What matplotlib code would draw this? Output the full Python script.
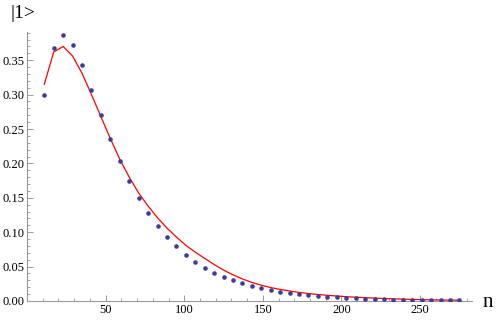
import matplotlib
matplotlib.use("Agg")
import matplotlib.pyplot as plt
from matplotlib.ticker import MultipleLocator, FormatStrFormatter

n_values = [11 + 6 * k for k in range(45)]
dots = [0.299, 0.368, 0.387, 0.372, 0.343, 0.307, 0.270, 0.236, 0.203, 0.175,
        0.150, 0.128, 0.109, 0.093, 0.0795, 0.067, 0.057, 0.048, 0.041, 0.035,
        0.030, 0.0257, 0.0218, 0.0185, 0.0156, 0.0135, 0.0112, 0.0097, 0.0087, 0.0073,
        0.0063, 0.0054, 0.0046, 0.0040, 0.0034, 0.0029, 0.0025, 0.0021, 0.0018, 0.0016,
        0.0014, 0.0012, 0.0010, 0.0009, 0.0008]
line = [0.315, 0.362, 0.370, 0.356, 0.331, 0.300, 0.268, 0.236, 0.206, 0.180,
        0.157, 0.138, 0.121, 0.106, 0.093, 0.081, 0.071, 0.062, 0.053, 0.045,
        0.038, 0.032, 0.027, 0.023, 0.0195, 0.0168, 0.0145, 0.0125, 0.0108, 0.0095,
        0.0083, 0.0072, 0.0063, 0.0055, 0.0048, 0.0042, 0.0036, 0.0031, 0.0027, 0.0023,
        0.0020, 0.0017, 0.0015, 0.0013, 0.0011]

plt.rcParams['font.family'] = ['Liberation Serif', 'DejaVu Serif']

fig = plt.figure(figsize=(5, 3.2), dpi=100)
ax = fig.add_axes([0.054, 0.0594, 0.89, 0.8406])

ax.plot(n_values, line, color='red', lw=0.9, zorder=2)
ax.plot(n_values, dots, 'o', color=(0.24, 0.24, 0.6), ms=3.3, mec='none', zorder=3)

ax.set_xlim(0, 283)
ax.set_ylim(0, 0.391)

for s in ['top', 'right']:
    ax.spines[s].set_visible(False)
for s in ['left', 'bottom']:
    ax.spines[s].set_color('#999999')
    ax.spines[s].set_linewidth(0.8)

ax.xaxis.set_major_locator(MultipleLocator(50))
ax.xaxis.set_minor_locator(MultipleLocator(10))
ax.yaxis.set_major_locator(MultipleLocator(0.05))
ax.yaxis.set_minor_locator(MultipleLocator(0.01))
ax.yaxis.set_major_formatter(FormatStrFormatter('%.2f'))
ax.set_xticks([50, 100, 150, 200, 250])

ax.tick_params(which='both', direction='in', color='#999999', labelsize=9, pad=2)
ax.tick_params(which='major', length=4, width=0.7)
ax.tick_params(which='minor', length=2.2, width=0.6)

fig.text(0.02, 0.985, '|1>', fontsize=14, va='top', ha='left')
fig.text(0.965, 0.055, 'n', fontsize=15, va='center', ha='left')

fig.savefig('out.png', dpi=100)
